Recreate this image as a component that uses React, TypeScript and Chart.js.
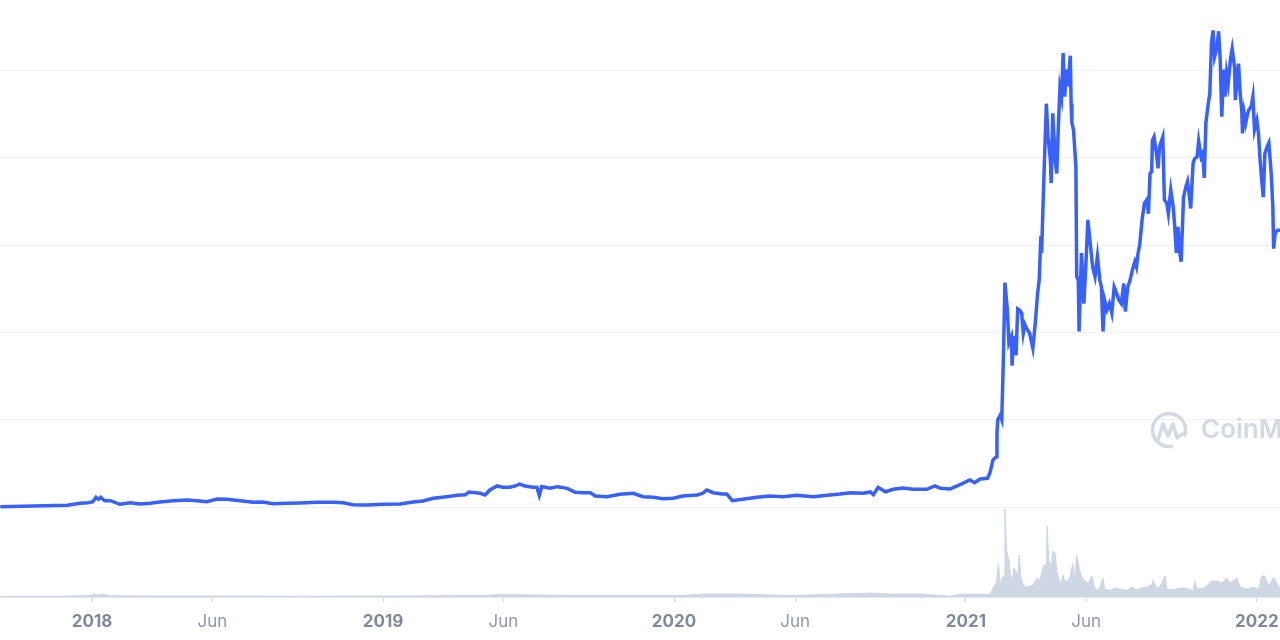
import React, { useEffect, useRef } from 'react';
import { Chart, registerables } from 'chart.js';

Chart.register(...registerables);

// x values are days since 2018-01-01
const tickDays = [0, 151, 365, 516, 730, 882, 1096, 1247, 1461];
const tickLabels = ['2018', 'Jun', '2019', 'Jun', '2020', 'Jun', '2021', 'Jun', '2022'];
const gridValues = [0, 100, 200, 300, 400, 500];

// price (USD)
const priceDay = [
  -115, -74, -31, -15, -5, 1, 5, 8, 11, 16, 23, 35, 48, 60, 73, 85, 102, 119, 135, 144, 157, 169, 186, 202, 214, 227, 245, 261, 282, 302, 315, 327, 345, 365, 386, 403, 415, 428, 445, 458, 468, 473, 487,
  493, 499, 508, 515, 524, 531, 536, 543, 553, 558, 561, 564, 574, 584, 596, 606, 616, 625, 631, 646, 662, 679, 691, 704, 716, 729, 741, 759, 766, 771, 779, 790, 796, 803, 816, 834, 850, 867, 884, 904, 922, 938, 951, 967, 976, 980, 986, 995, 1005, 1017, 1030, 1047, 1057, 1064, 1076, 1085, 1092, 1101, 1107, 1114, 1123, 1126, 1130, 1134, 1135, 1136, 1139, 1141, 1143, 1145, 1148, 1150, 1153, 1154, 1156, 1159, 1161,
  1163, 1166, 1168, 1170, 1172, 1176, 1180, 1183, 1186, 1188, 1190, 1191, 1193, 1195, 1197, 1199, 1202, 1203, 1205, 1208, 1210, 1212, 1214, 1216, 1218, 1220, 1222, 1224, 1227, 1228, 1229, 1231, 1234, 1235, 1237, 1238, 1241, 1244, 1247, 1249, 1252, 1255, 1258, 1261, 1264, 1266, 1268, 1270, 1273, 1276, 1279, 1282, 1285, 1288, 1291, 1294, 1296, 1299, 1302, 1305, 1308, 1310, 1312, 1314, 1317, 1320, 1323, 1325, 1327, 1329, 1330, 1332, 1335, 1337, 1339, 1343, 1345, 1348, 1350, 1353, 1356, 1358, 1360, 1362, 1364, 1366, 1369, 1372, 1374, 1376, 1378, 1381, 1383, 1386, 1388, 1391, 1393, 1395, 1397, 1400, 1402, 1404, 1406, 1408, 1411, 1413, 1415, 1417, 1419, 1421, 1423, 1425, 1428, 1430, 1433, 1434, 1436, 1438, 1440, 1442, 1443, 1445, 1447, 1449, 1451, 1454, 1456, 1458, 1461, 1463, 1465, 1467, 1469, 1471, 1474, 1476, 1479, 1481, 1482, 1484, 1487, 1490,
];
const priceValue = [
  0.3, 1.1, 1.9, 4.2, 4.9, 6.1, 11.1, 8.8, 11.1, 7.2, 7.2, 3.1, 4.9, 3.4, 4.2, 5.7, 7.2, 8.0, 6.9, 6.1, 9.2, 8.8, 7.2, 5.4, 5.7, 3.8, 4.2, 4.6, 5.4, 5.4, 4.9, 2.6, 2.3, 3.1, 3.4, 5.7, 6.9, 10.0, 11.8, 13.4, 14.1, 17.2, 15.7,
  13.7, 19.5, 24.1, 22.6, 22.6, 24.1, 26.3, 24.1, 22.6, 22.6, 13.4, 23.3, 21.4, 23.3, 21.4, 16.8, 16.4, 16.4, 12.6, 11.8, 14.5, 15.7, 11.8, 11.1, 9.5, 10.0, 12.6, 13.7, 15.7, 19.5, 16.4, 14.9, 14.9, 7.2, 8.8, 11.1, 12.6, 11.8, 13.4, 11.8, 13.4, 14.9, 16.4, 15.7, 17.2, 14.1, 22.6, 17.5, 20.3, 21.8, 20.3, 20.3, 24.1, 21.4, 20.6, 24.1, 27.1, 30.9, 27.8, 32.1, 32.9, 38.6, 53.8, 57.6, 84, 100, 105, 100, 168, 257, 226, 188, 195, 162, 196, 174, 227,
  226, 222, 199, 209, 205, 199, 182, 210, 245, 260, 310, 291, 352, 409, 462, 424, 398, 371, 451, 398, 382, 436, 480, 470, 520, 470, 501, 482, 517, 462, 440, 432, 390, 264, 260, 201, 291, 233, 287, 329, 302, 275, 264, 287, 260, 252, 201, 237, 226, 233, 222, 252, 245, 237, 233, 256, 224, 252, 260, 272, 281, 275, 291, 300, 329, 348, 352, 336, 382, 384, 420, 424, 405, 388, 413, 424, 352, 348, 336, 363, 344, 321, 291, 321, 294, 281, 355, 367, 373, 359, 342, 394, 399, 401, 419, 401, 405, 377, 440, 462, 474, 531, 546, 516, 527, 545, 512, 447, 501, 470, 497, 485, 514, 525, 504, 466, 489, 508, 474, 455, 428, 451, 440, 449, 455, 459, 470, 432, 443, 428, 398, 375, 355, 405, 413, 417, 382, 344, 296, 314, 317, 317,
];

// volume (billion USD)
const volumeDay = [
  -115, -40, -3, 4, 8, 13, 23, 73, 135, 261, 386, 487, 512, 562, 637, 687, 737, 769, 813, 875, 976, 1001, 1038, 1064, 1076, 1089, 1105, 1126,
  1130, 1134, 1137, 1139, 1141, 1144, 1145, 1147, 1148, 1150, 1153, 1155, 1156, 1159, 1161, 1163, 1165, 1168, 1172, 1176, 1180, 1185, 1189, 1191, 1194, 1197, 1198, 1200, 1202, 1203, 1205, 1208, 1210, 1212, 1214, 1216, 1218, 1220, 1224, 1227, 1230, 1232, 1235, 1238, 1241, 1245, 1250, 1254, 1257, 1260, 1264, 1268, 1270, 1277, 1283, 1289, 1298, 1304, 1310, 1316, 1323, 1329, 1331, 1335, 1339, 1346, 1348, 1356, 1365, 1373, 1381, 1383, 1386, 1394, 1398, 1404, 1411, 1417, 1423, 1428, 1436, 1440, 1448, 1457, 1463, 1467, 1471, 1476, 1482, 1486, 1490,
];
const volumeValue = [
  0.05, 0.07, 0.15, 0.3, 0.2, 0.3, 0.12, 0.1, 0.1, 0.08, 0.1, 0.15, 0.25, 0.2, 0.15, 0.15, 0.15, 0.3, 0.3, 0.15, 0.4, 0.3, 0.3, 0.15, 0.07, 0.27, 0.3, 0.27,
  0.9, 1.4, 3.4, 1.07, 1.9, 2.07, 8.8, 4.7, 4.4, 3.7, 1.7, 2.1, 2.9, 2.6, 2.0, 4.2, 2.0, 1.2, 1.0, 1.07, 1.2, 1.9, 1.7, 2.4, 3.2, 3.1, 7.1, 3.6, 3.4, 2.7, 4.6, 4.4, 2.6, 2.1, 1.2, 1.7, 2.2, 1.6, 1.6, 2.1, 3.4, 1.7, 4.2, 2.9, 2.1, 1.6, 1.4, 2.1, 1.1, 0.7, 0.9, 1.9, 0.8, 0.67, 0.9, 0.8, 0.67, 1.0, 0.73, 0.9, 1.0, 1.2, 1.7, 0.9, 1.0, 2.1, 0.8, 0.73, 0.9, 0.9, 0.57, 1.6, 0.8, 0.9, 1.1, 1.6, 1.6, 1.4, 1.9, 1.4, 1.9, 1.0, 0.8, 1.0, 0.73, 2.1, 2.1, 1.1, 2.0, 1.4, 0.9,
];

const watermark = {
  id: 'watermark',
  beforeDatasetsDraw(chart: any) {
    const ctx = chart.ctx as CanvasRenderingContext2D;
    ctx.save();
    ctx.strokeStyle = '#d3d9e4';
    ctx.fillStyle = '#d3d9e4';
    ctx.lineWidth = 3.5;
    ctx.lineCap = 'round';
    ctx.lineJoin = 'round';
    ctx.beginPath();
    ctx.arc(1169, 430, 16.5, 0.45 * Math.PI, 2.1 * Math.PI);
    ctx.stroke();
    ctx.beginPath();
    ctx.moveTo(1158, 440);
    ctx.lineTo(1163, 424);
    ctx.lineTo(1168, 436);
    ctx.lineTo(1173, 424);
    ctx.lineTo(1177, 438);
    ctx.lineTo(1182, 434);
    ctx.stroke();
    ctx.font = '600 26px Inter';
    ctx.textBaseline = 'alphabetic';
    ctx.fillText('CoinMarketCap', 1201, 438);
    ctx.restore();
  },
};

export default function App() {
  const ref = useRef<HTMLCanvasElement>(null);
  useEffect(() => {
    document.body.style.margin = '0';
    const canvas = ref.current!;
    const chart = new Chart(canvas, {
      type: 'line',
      data: {
        datasets: [
          {
            label: 'Volume',
            data: volumeDay.map((d, i) => ({ x: d, y: volumeValue[i] })),
            yAxisID: 'yv',
            borderColor: '#cfd6e4',
            backgroundColor: '#cfd6e4',
            borderWidth: 1,
            fill: 'origin',
            pointRadius: 0,
            tension: 0,
            order: 2,
          },
          {
            label: 'Price',
            data: priceDay.map((d, i) => ({ x: d, y: priceValue[i] })),
            yAxisID: 'y',
            borderColor: '#3861fb',
            borderWidth: 3.5,
            pointRadius: 0,
            tension: 0,
            fill: false,
            order: 1,
          },
        ],
      },
      options: {
        responsive: false,
        animation: false,
        layout: { padding: 0 },
        plugins: { legend: { display: false }, tooltip: { enabled: false } },
        scales: {
          x: {
            type: 'linear',
            min: -115.4,
            max: 1490,
            afterBuildTicks: (s: any) => {
              s.ticks = tickDays.map((v) => ({ value: v }));
            },
            afterFit: (s: any) => {
              s.height = 43;
              s.paddingLeft = 0;
              s.paddingRight = 0;
            },
            ticks: {
              autoSkip: false,
              maxRotation: 0,
              padding: 10,
              callback: (_v: any, i: number) => tickLabels[i],
              font: (ctx: any) => ({ family: 'Inter', size: 17, weight: ctx.index % 2 === 0 ? '700' : '400' }),
              color: (ctx: any) => (ctx.index % 2 === 0 ? '#808a9d' : '#8f97a8'),
            },
            grid: { drawOnChartArea: false, tickLength: 5, color: '#cfd6e4' },
            border: { color: '#e3e6ec' },
          },
          y: {
            type: 'linear',
            min: -103.1,
            max: 580.8,
            afterBuildTicks: (s: any) => {
              s.ticks = gridValues.map((v) => ({ value: v }));
            },
            afterFit: (s: any) => {
              s.width = 0;
            },
            ticks: { display: false },
            grid: { color: '#f0f1f4', drawTicks: false },
            border: { display: false },
          },
          yv: {
            type: 'linear',
            display: false,
            min: 0,
            max: 59.7,
          },
        },
      },
      plugins: [watermark],
    } as any);
    return () => chart.destroy();
  }, []);
  return (
    <div style={{ width: 1280, height: 640, background: '#ffffff' }}>
      <canvas ref={ref} width={1280} height={640} style={{ display: 'block', width: 1280, height: 640 }} />
    </div>
  );
}
